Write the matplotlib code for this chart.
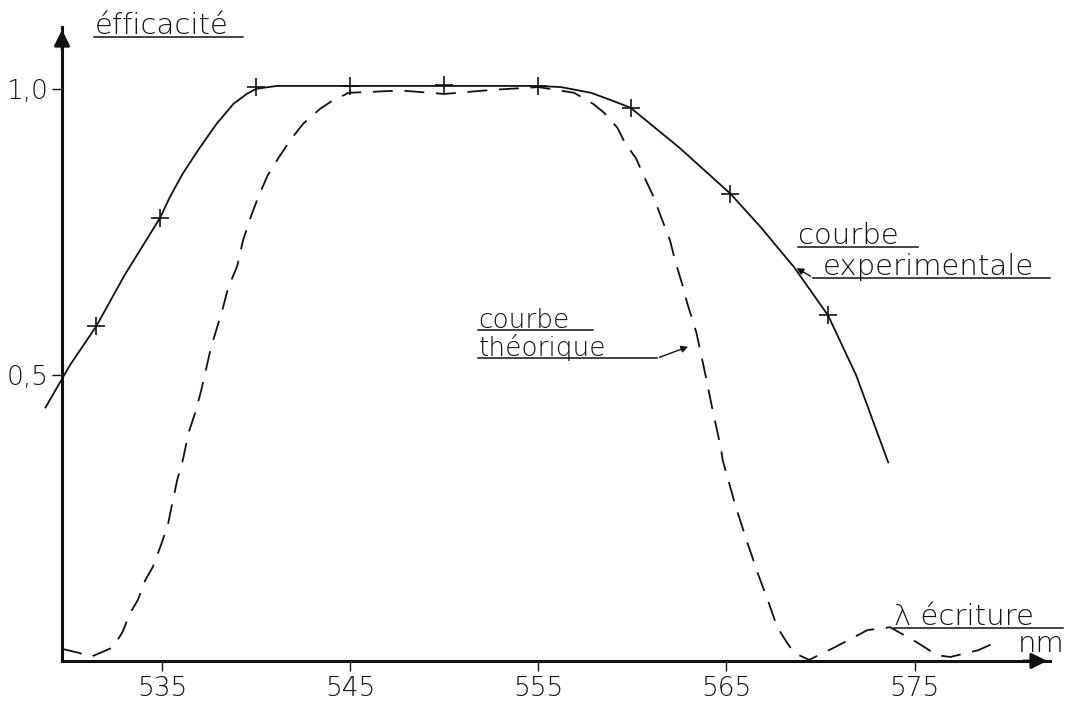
import matplotlib.pyplot as plt

exp_x = [528.8, 530.1, 531.5, 533.0, 534.9, 535.4, 536.1, 537.0, 537.9, 538.8, 539.5,
         540.0, 541.1, 545.0, 550.0, 555.0, 556.2, 557.8, 558.8, 559.9, 562.5, 565.2,
         566.8, 568.6, 570.4, 571.9, 573.6]
exp_y = [0.443, 0.517, 0.585, 0.674, 0.775, 0.810, 0.852, 0.897, 0.939, 0.974, 0.991,
         1.0, 1.005, 1.005, 1.005, 1.005, 1.003, 0.993, 0.981, 0.967, 0.897, 0.817,
         0.759, 0.688, 0.604, 0.499, 0.347]
# points de mesure (+)
mes_x = [531.5, 534.9, 540.0, 545.0, 550.0, 555.0, 559.9, 565.2, 570.4]
mes_y = [0.585, 0.775, 1.003, 1.005, 1.007, 1.005, 0.967, 0.817, 0.604]

# courbe théorique
th_x = [529.7, 530.6, 531.2, 531.7, 532.4, 532.9, 533.3, 533.7, 534.1, 534.5, 534.9,
        535.3, 535.5, 535.8, 536.1, 536.4, 536.8, 537.1, 537.6, 538.2, 538.5, 539.0,
        539.3, 539.7, 540.1, 540.6, 541.2, 541.9, 542.5, 543.4, 543.9, 544.9,
        547.7, 550.0, 552.5, 555.0, 556.9, 557.9, 558.5, 559.2, 559.6, 560.2, 560.6,
        561.1, 561.5, 562.0, 562.3, 562.7, 562.9, 563.4, 563.8, 564.3, 564.7, 564.8,
        565.5, 566.1, 566.7, 567.2, 567.7, 568.2, 568.6, 569.4, 570.7, 572.5, 573.7,
        575.2, 576.2, 576.9, 578.4, 579.6]
th_y = [0.021, 0.014, 0.007, 0.014, 0.024, 0.051, 0.084, 0.106, 0.141, 0.164, 0.199,
        0.237, 0.269, 0.316, 0.351, 0.398, 0.438, 0.476, 0.548, 0.613, 0.651, 0.691,
        0.735, 0.775, 0.810, 0.848, 0.880, 0.914, 0.939, 0.965, 0.976, 0.993,
        0.997, 0.991, 0.998, 1.003, 0.993, 0.974, 0.958, 0.932, 0.906, 0.878, 0.848,
        0.813, 0.778, 0.735, 0.696, 0.653, 0.627, 0.574, 0.513, 0.433, 0.373, 0.351,
        0.269, 0.208, 0.150, 0.106, 0.059, 0.033, 0.014, 0.002, 0.023, 0.054, 0.059,
        0.031, 0.010, 0.007, 0.019, 0.037]

xticks = [535, 545, 555, 565, 575]
yticks = [0.5, 1.0]
ylabels = ["0,5", "1,0"]

ink = "#111111"
font = dict(family="DejaVu Sans", fontweight="light", color=ink)

fig = plt.figure(figsize=(10.66, 7.07), dpi=100)
ax = fig.add_axes([0.0582, 0.0651, 0.9268, 0.8967])
ax.set_xlim(529.68, 582.2)
ax.set_ylim(0, 1.108)

ax.plot(exp_x, exp_y, color=ink, lw=1.3, clip_on=False)
ax.plot(mes_x, mes_y, ls="none", marker="+", ms=13, mew=1.2, color=ink, clip_on=False)
ax.plot(th_x, th_y, color=ink, lw=1.3, ls=(0, (11, 6.5)), clip_on=False)

for s in ["top", "right"]:
    ax.spines[s].set_visible(False)
for s in ["left", "bottom"]:
    ax.spines[s].set_linewidth(2.2)
    ax.spines[s].set_color(ink)

# flèches des axes
ax.annotate("", xy=(1.0, 0), xycoords="axes fraction", xytext=(0.97, 0),
            arrowprops=dict(arrowstyle="-|>", color=ink, lw=2, mutation_scale=24))
ax.annotate("", xy=(0, 1.0), xycoords="axes fraction", xytext=(0, 0.96),
            arrowprops=dict(arrowstyle="-|>", color=ink, lw=2, mutation_scale=24))

ax.set_xticks(xticks)
ax.set_xticklabels([str(t) for t in xticks], fontsize=19, **font)
ax.set_yticks(yticks)
ax.set_yticklabels(ylabels, fontsize=19, **font)
ax.tick_params(axis="x", direction="out", length=7, width=1, colors=ink, pad=4)
ax.tick_params(axis="y", direction="out", length=7, width=1, colors=ink, pad=3)


def label(x, y, s, x_end=None, size=21):
    # texte manuscrit souligné
    ax.text(x, y + 0.004, s, fontsize=size, ha="left", va="baseline", clip_on=False, **font)
    if x_end is not None:
        ax.plot([x, x_end], [y, y], color=ink, lw=1.1, clip_on=False)


label(531.4, 1.091, "éfficacité", 539.3)
label(551.8, 0.578, "courbe", 557.9, size=19)
label(551.8, 0.529, "théorique", 561.3, size=19)
ax.annotate("", xy=(563.1, 0.551), xytext=(561.3, 0.529),
            arrowprops=dict(arrowstyle="-|>", color=ink, lw=1, mutation_scale=10))

label(568.8, 0.724, "courbe", 575.2)
label(570.1, 0.670, "experimentale")
ax.plot([569.6, 582.2], [0.670, 0.670], color=ink, lw=1.1, clip_on=False)
ax.annotate("", xy=(568.6, 0.689), xytext=(569.6, 0.670),
            arrowprops=dict(arrowstyle="-|>", color=ink, lw=1, mutation_scale=10))

label(573.9, 0.058, "λ écriture", 582.9)
ax.text(580.5, 0.016, "nm", fontsize=21, ha="left", va="baseline", clip_on=False, **font)

fig.savefig("out.png", dpi=100)
